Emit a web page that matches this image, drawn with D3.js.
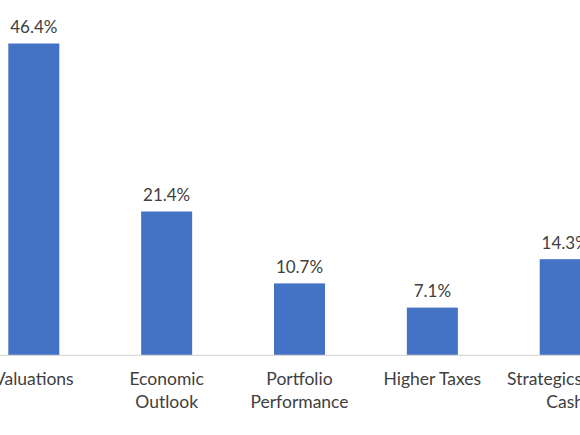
<!DOCTYPE html>
<html>
<head>
<meta charset="utf-8">
<script src="https://cdn.jsdelivr.net/npm/d3@7"></script>
<style>
  html, body { margin: 0; padding: 0; background: #ffffff; overflow: hidden; }
  svg { display: block; }
</style>
</head>
<body>
<svg id="chart" width="580" height="435"></svg>
<script>
// Data
const categories = ["Valuations", "Economic Outlook", "Portfolio Performance", "Higher Taxes", "Strategics Uses Cash"];
const labelLines = [["Valuations"], ["Economic", "Outlook"], ["Portfolio", "Performance"], ["Higher Taxes"], ["Strategics Uses", "Cash"]];
const values = [46.4, 21.4, 10.7, 7.1, 14.3];
const valueLabels = ["46.4%", "21.4%", "10.7%", "7.1%", "14.3%"];

const svg = d3.select("#chart");
const step = 132.85;
const firstCenter = 33.8;
const pad = 1 - 51 / step;

const x = d3.scaleBand()
  .domain(categories)
  .range([firstCenter - step / 2, firstCenter - step / 2 + step * categories.length])
  .paddingInner(pad)
  .paddingOuter(pad / 2);

const y = d3.scaleLinear().domain([0, 50]).range([355.3, 19.3]);

const font = "Lato, 'Open Sans', sans-serif";
const textColor = "#404040";

// Bars
svg.append("g").selectAll("rect")
  .data(values)
  .join("rect")
  .attr("x", (d, i) => x(categories[i]))
  .attr("width", x.bandwidth())
  .attr("y", d => y(d))
  .attr("height", d => y(0) - y(d))
  .attr("fill", "#4472C4");

// Axis baseline
const xAxis = d3.axisBottom(x).tickSize(0).tickFormat("");
const axisG = svg.append("g").attr("transform", `translate(0,${y(0)})`).call(xAxis);
axisG.select(".domain").remove();
axisG.append("line")
  .attr("x1", 0).attr("x2", 580)
  .attr("y1", 0).attr("y2", 0)
  .attr("stroke", "#d9d9d9").attr("stroke-width", 1.2);

// Value labels
svg.append("g").selectAll("text")
  .data(values)
  .join("text")
  .attr("x", (d, i) => x(categories[i]) + x.bandwidth() / 2)
  .attr("y", d => y(d) - 10.5)
  .attr("text-anchor", "middle")
  .attr("font-family", font)
  .attr("font-size", 17)
  .attr("fill", textColor)
  .text((d, i) => valueLabels[i]);

// Category labels
const catG = svg.append("g");
categories.forEach((c, i) => {
  const t = catG.append("text")
    .attr("x", x(c) + x.bandwidth() / 2)
    .attr("y", 385)
    .attr("text-anchor", "middle")
    .attr("font-family", font)
    .attr("font-size", 17.5)
    .attr("fill", textColor);
  labelLines[i].forEach((line, j) => {
    t.append("tspan")
      .attr("x", x(c) + x.bandwidth() / 2)
      .attr("dy", j === 0 ? 0 : 22.5)
      .text(line);
  });
});
</script>
</body>
</html>
